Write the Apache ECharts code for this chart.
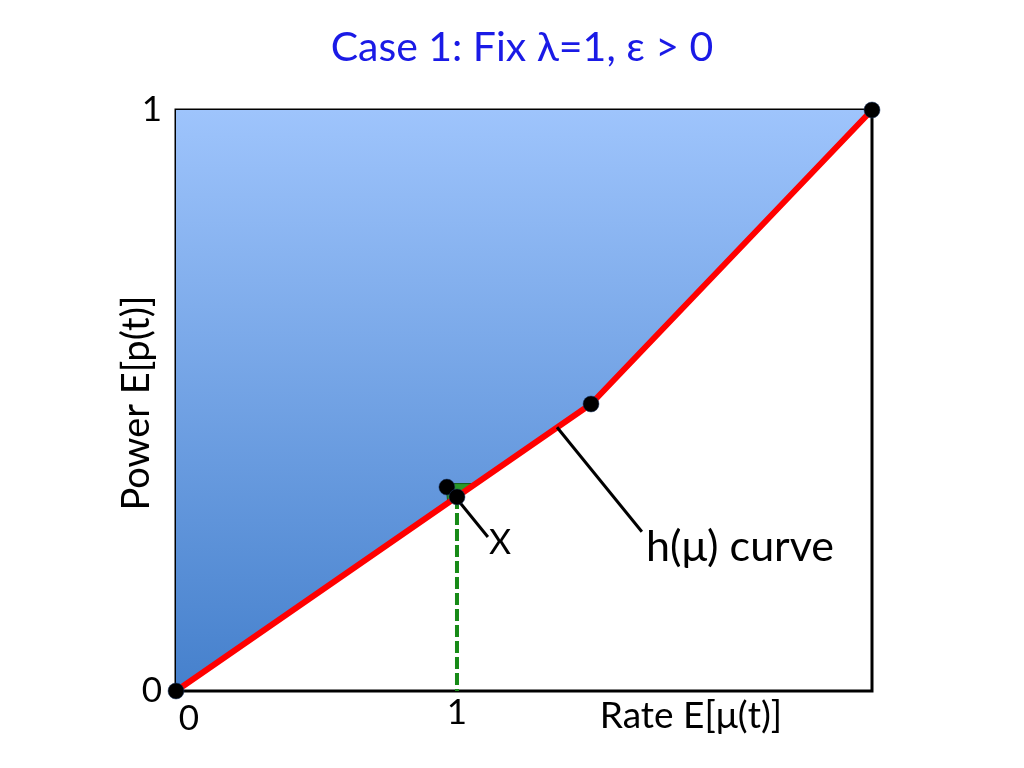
<!DOCTYPE html>
<html><head><meta charset="utf-8">
<script src="https://cdn.jsdelivr.net/npm/echarts@6/dist/echarts.min.js"></script>
<style>html,body{margin:0;padding:0;background:#fff}#c{width:1024px;height:768px}</style>
</head><body><div id="c"></div>
<script>
const titleText = 'Case 1: Fix λ=1, ε > 0';
const xName = 'Rate E[μ(t)]';
const yName = 'Power E[p(t)]';
const xMax = 2.477;
const xTicks = [0, 1];
const yTicks = [0, 1];
// h(mu) curve (piecewise linear)
const curveX = [0, 1.477, 2.477];
const curveY = [0, 0.494, 1];
// marked points
const pointsX = [0, 2.477, 1.477, 0.964, 1];
const pointsY = [0, 1, 0.494, 0.351, 0.334];
// dashed drop line at rate 1
const dropX = [1, 1];
const dropY = [0.334, 0];
// green small triangle
const triX = [0.961, 1.056, 0.967];
const triY = [0.357, 0.357, 0.324];
// leader lines for annotations
const leaderX1 = [1.011, 1.110];
const leaderY1 = [0.324, 0.265];
const leaderX2 = [1.356, 1.658];
const leaderY2 = [0.454, 0.274];
const zip = (a, b) => a.map((v, i) => [v, b[i]]);

const FONT = 'Lato';
const chart = echarts.init(document.getElementById('c'));
chart.setOption({
  animation: false,
  graphic: [
    {type: 'text', style: {text: titleText, x: 522, y: 48, font: '41px Lato', fill: '#1a1ae6', textAlign: 'center', textVerticalAlign: 'middle'}},
    {type: 'text', x: 137, y: 403, rotation: Math.PI / 2,
      style: {text: yName, x: 0, y: 0, font: '38px Lato', fill: '#000', textAlign: 'center', textVerticalAlign: 'middle'}},
    {type: 'text', style: {text: xName, x: 691, y: 716, font: '37px Lato', fill: '#000', textAlign: 'center', textVerticalAlign: 'middle'}},
    {type: 'text', style: {text: 'X', x: 500, y: 543, font: '34px Lato', fill: '#000', textAlign: 'center', textVerticalAlign: 'middle'}},
    {type: 'text', style: {text: 'h(μ) curve', x: 740, y: 547, font: '43px Lato', fill: '#000', textAlign: 'center', textVerticalAlign: 'middle'}}
  ],
  grid: {left: 176, right: 152, top: 110, bottom: 77, show: true, borderColor: '#000', borderWidth: 3, backgroundColor: 'transparent'},
  xAxis: {type: 'value', min: 0, max: xMax, interval: 1,
    axisLine: {show: false}, axisTick: {show: false}, splitLine: {show: false},
    axisLabel: {margin: 4, fontFamily: FONT, fontSize: 35, color: '#000',
      formatter: v => xTicks.indexOf(v) >= 0 ? (v === 0 ? '{z|0}' : '{o|' + v + '}') : '',
      rich: {z: {fontFamily: FONT, fontSize: 35, color: '#000', padding: [6, 0, 0, 26]},
             o: {fontFamily: FONT, fontSize: 35, color: '#000'}}}},
  yAxis: {type: 'value', min: 0, max: 1, interval: 1,
    axisLine: {show: false}, axisTick: {show: false}, splitLine: {show: false},
    axisLabel: {margin: 14, fontFamily: FONT, fontSize: 35, color: '#000',
      formatter: v => yTicks.indexOf(v) >= 0 ? String(v) : ''}},
  series: [
    {type: 'line', data: zip(curveX, curveY), symbol: 'none', lineStyle: {width: 0},
      areaStyle: {origin: 'end', opacity: 1,
        color: new echarts.graphic.LinearGradient(0, 0, 0, 1, [{offset: 0, color: '#9ec4fc'}, {offset: 1, color: '#4580cc'}])}, z: 1},
    {type: 'line', data: zip(dropX, dropY), symbol: 'none', lineStyle: {color: '#178a17', width: 4, type: [12, 4]}, z: 3},
    {type: 'custom', renderItem: (params, api) => {
        const pts = zip(triX, triY).map(p => api.coord(p));
        return {type: 'polygon', shape: {points: pts}, style: {fill: '#2a9a2a', stroke: '#145c14', lineWidth: 1}};
      }, data: [0], z: 4},
    {type: 'line', data: zip(curveX, curveY), symbol: 'none', lineStyle: {color: '#ff0000', width: 6}, z: 5},
    {type: 'line', data: zip(leaderX1, leaderY1), symbol: 'none', lineStyle: {color: '#000', width: 3}, z: 6},
    {type: 'line', data: zip(leaderX2, leaderY2), symbol: 'none', lineStyle: {color: '#000', width: 3}, z: 6},
    {type: 'scatter', data: zip(pointsX, pointsY), symbolSize: 16, clip: false,
      itemStyle: {color: '#000', borderColor: '#1e3c6e', borderWidth: 0.5, opacity: 1}, z: 7}
  ]
});
</script></body></html>
